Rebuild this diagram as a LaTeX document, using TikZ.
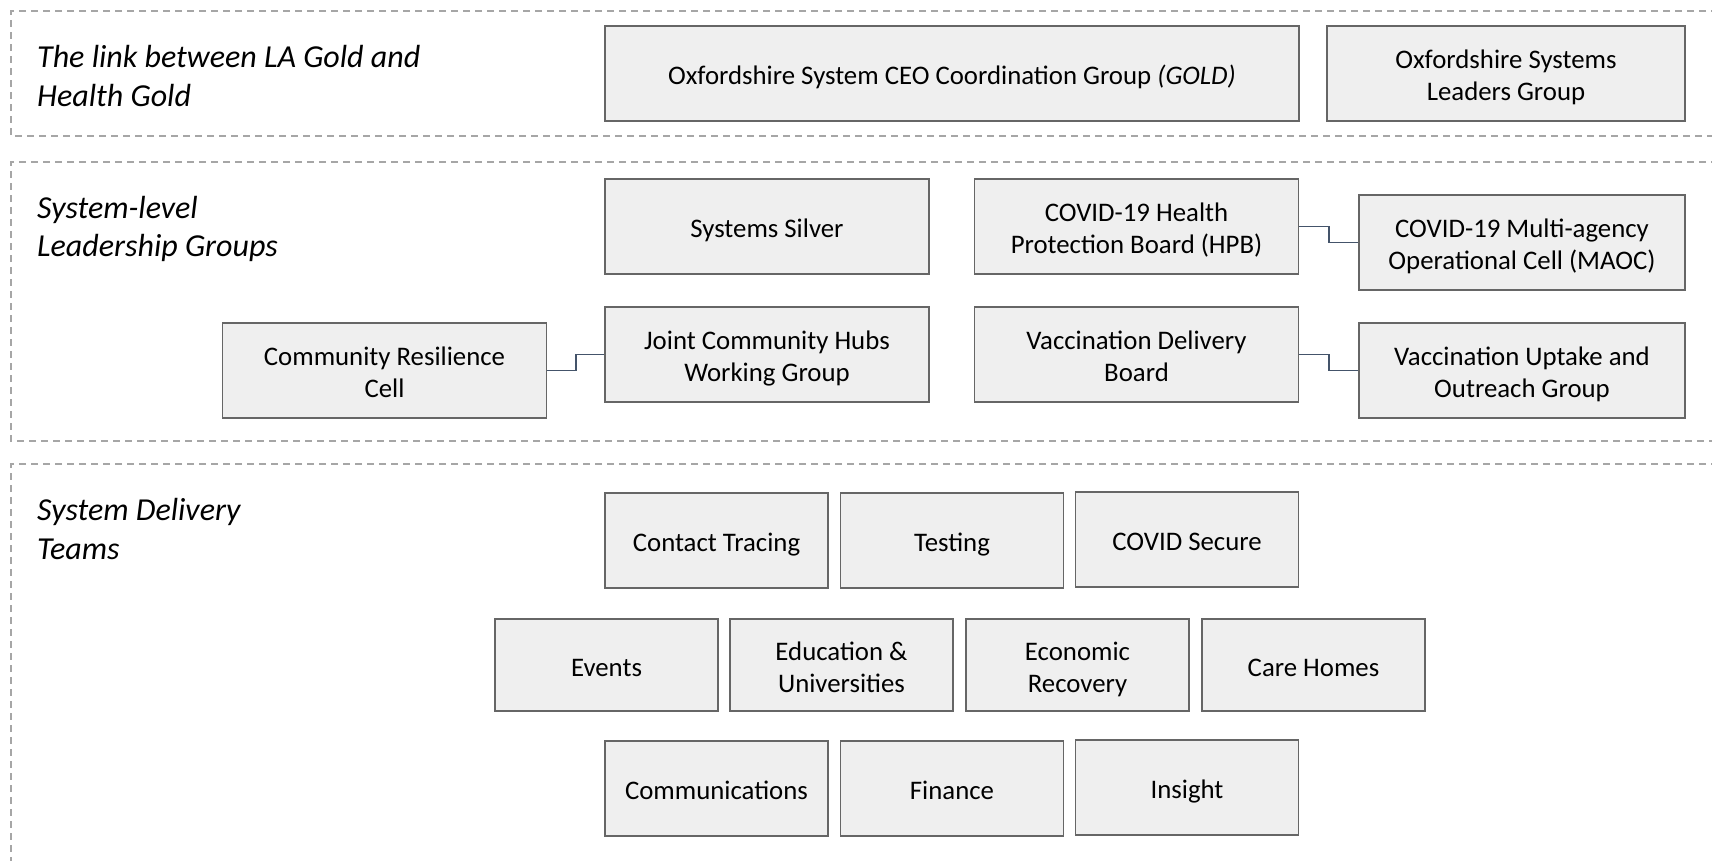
\documentclass[tikz,border=0pt]{standalone}
\usepackage{fontspec}
\setmainfont{Carlito}
\usetikzlibrary{calc}
\definecolor{boxfill}{HTML}{EFEFEF}
\definecolor{boxline}{HTML}{666666}
\definecolor{connline}{HTML}{44546A}
\definecolor{frameline}{HTML}{A6A6A6}
\begin{document}
\begin{tikzpicture}[x=1pt,y=-1pt,
  frame/.style={draw=frameline, line width=1.3pt, dash pattern=on 7pt off 5pt},
  boxbase/.style={draw=boxline, fill=boxfill, line width=1.6pt, align=center,
    inner sep=0pt, minimum height=95pt, font=\fontsize{26.8}{32}\selectfont,
    text height=28pt, text depth=6pt},
  twoline/.style={text height=60pt, text depth=6pt},
  widebox/.style={boxbase, minimum width=324pt},
  teambox/.style={boxbase, minimum width=223pt},
  goldbox/.style={boxbase, minimum width=694pt},
  sectlabel/.style={anchor=west, align=left, inner sep=0pt,
    font=\fontsize{32}{38.5}\selectfont\itshape},
  conn/.style={draw=connline, line width=1.8pt}]
\useasboundingbox (0,0) rectangle (1712,860);

% section frames
\draw[frame] (1730,11) -- (11,11) -- (11,136) -- (1730,136);
\draw[frame] (1730,162) -- (11,162) -- (11,441) -- (1730,441);
\draw[frame] (1730,464) -- (11,464) -- (11,880);

% section labels
\node[sectlabel] (lab1) at (37,76) {The link between LA Gold and\\Health Gold};
\node[sectlabel] (lab2) at (37,229) {System-level\\Leadership Groups};
\node[sectlabel] (lab3) at (37,529) {System Delivery\\Teams};

% row 1
\node[goldbox] (gold) at (952,73.5) {Oxfordshire System CEO Coordination Group \textit{(GOLD)}};
\node[widebox, twoline, minimum width=358pt] (leaders) at (1506,73.5) {Oxfordshire Systems\\Leaders Group};

% system-level
\node[widebox] (silver) at (767,226.5) {Systems Silver};
\node[widebox, twoline] (hpb) at (1136.5,226.5) {COVID-19 Health\\Protection Board (HPB)};
\node[widebox, twoline, minimum width=326pt] (maoc) at (1522,242.5) {COVID-19 Multi-agency\\Operational Cell (MAOC)};
\node[widebox, twoline] (crc) at (384.5,370.5) {Community Resilience\\Cell};
\node[widebox, twoline] (hubs) at (767,354.5) {Joint Community Hubs\\Working Group};
\node[widebox, twoline] (vdb) at (1136.5,354.5) {Vaccination Delivery\\Board};
\node[widebox, twoline, minimum width=326pt] (vuo) at (1522,370.5) {Vaccination Uptake and\\Outreach Group};

\draw[conn] (hpb.east) -| ($(hpb.east)!.5!(maoc.west)$) |- (maoc.west);
\draw[conn] (crc.east) -| ($(crc.east)!.5!(hubs.west)$) |- (hubs.west);
\draw[conn] (vdb.east) -| ($(vdb.east)!.5!(vuo.west)$) |- (vuo.west);

% delivery teams
\node[teambox] (tracing) at (716.5,540.5) {Contact Tracing};
\node[teambox] (testing) at (952,540.5) {Testing};
\node[teambox] (secure) at (1187,539.5) {COVID Secure};
\node[teambox, minimum height=92pt] (events) at (606.5,665) {Events};
\node[teambox, twoline, minimum height=92pt] (edu) at (841.5,665) {Education \&\\Universities};
\node[teambox, twoline, minimum height=92pt] (econ) at (1077.5,665) {Economic\\Recovery};
\node[teambox, minimum height=92pt] (care) at (1313.5,665) {Care Homes};
\node[teambox] (comms) at (716.5,788.5) {Communications};
\node[teambox] (finance) at (952,788.5) {Finance};
\node[teambox] (insight) at (1187,787.5) {Insight};
\end{tikzpicture}
\end{document}
